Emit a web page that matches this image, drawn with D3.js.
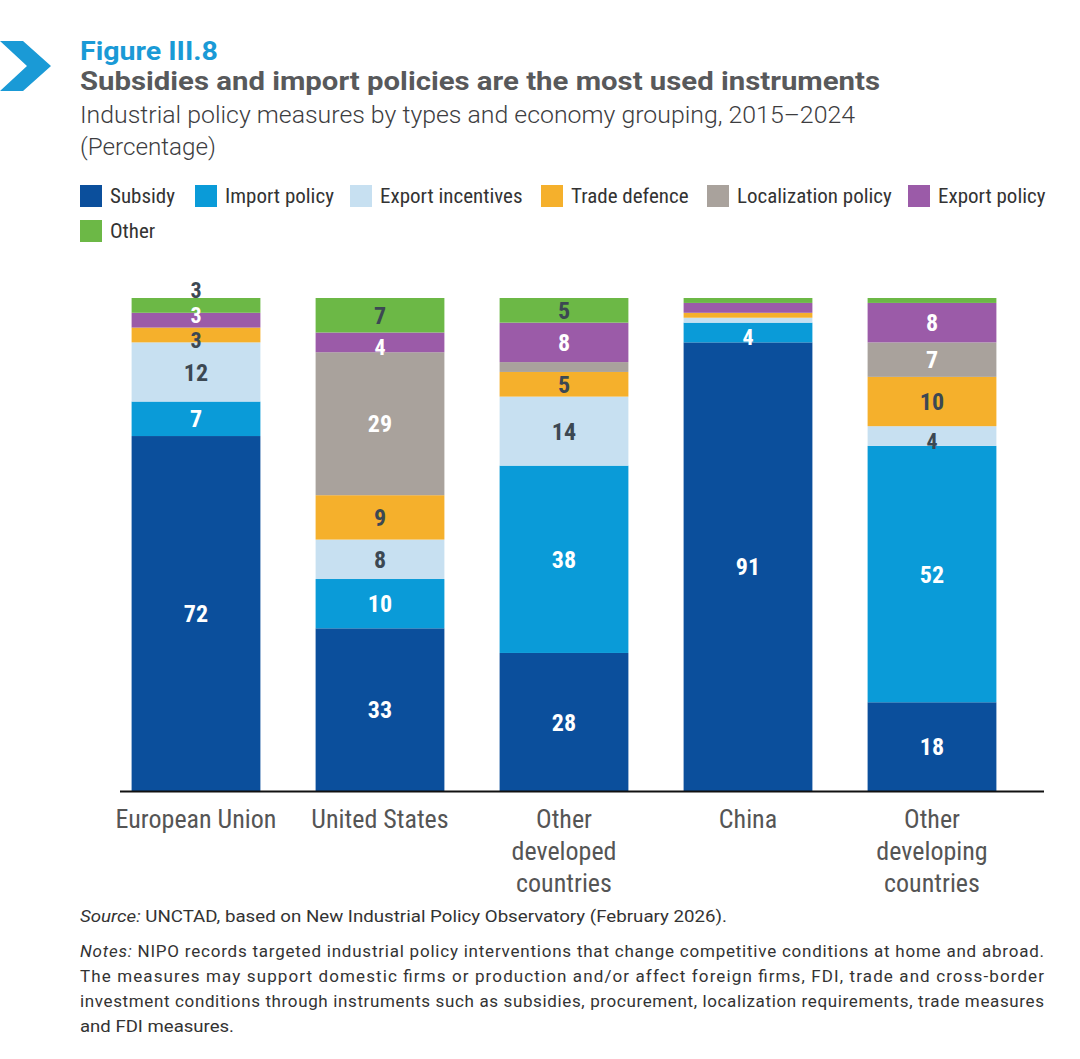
<!DOCTYPE html>
<html>
<head>
<meta charset="utf-8">
<script src="https://cdn.jsdelivr.net/npm/d3@7"></script>
<style>
  body { margin: 0; background: #fff; }
  svg { display: block; }
  .cond { font-family: "Liberation Sans Narrow", "Roboto Condensed", "Roboto", sans-serif; }
</style>
</head>
<body>
<div id="chart"></div>
<script>
// data (percent of measures)
const groups = ["European Union", "United States", "Other developed countries", "China", "Other developing countries"];
const groupLines = [["European Union"], ["United States"], ["Other", "developed", "countries"], ["China"], ["Other", "developing", "countries"]];
const types = ["Subsidy", "Import policy", "Export incentives", "Trade defence", "Localization policy", "Export policy", "Other"];
const colors = ["#0b4f9c", "#0a9bd8", "#c7e0f1", "#f5b02c", "#a9a29c", "#9b5ba8", "#6cb846"];
const labelColors = ["#fff", "#fff", "#3c4853", "#3c4853", "#fff", "#fff", "#3c4853"];

const subsidy      = [72, 33, 28, 91, 18];
const importPolicy = [7, 10, 38, 4, 52];
const exportIncent = [12, 8, 14, 1, 4];
const tradeDefence = [3, 9, 5, 1, 10];
const localization = [0, 29, 2, 0, 7];
const exportPolicy = [3, 4, 8, 2, 8];
const other        = [3, 7, 5, 1, 1];

const series = [subsidy, importPolicy, exportIncent, tradeDefence, localization, exportPolicy, other];

const W = 1080, H = 1059;
const svg = d3.select("#chart").append("svg").attr("width", W).attr("height", H);

// chevron
svg.append("path")
  .attr("d", "M0,41 L23,41 L51,66 L23,91 L0,91 L27,66 Z")
  .attr("fill", "#1a9ad6");

// titles
svg.append("text").attr("x", 80).attr("y", 60)
  .attr("font-family", "Roboto, sans-serif").attr("font-weight", 700).attr("font-size", 26)
  .attr("fill", "#1a9ad6").attr("textLength", 138).attr("lengthAdjust", "spacingAndGlyphs")
  .text("Figure III.8");
svg.append("text").attr("x", 80).attr("y", 90)
  .attr("font-family", "Roboto, sans-serif").attr("font-weight", 700).attr("font-size", 26)
  .attr("fill", "#58595b").attr("textLength", 800).attr("lengthAdjust", "spacingAndGlyphs")
  .text("Subsidies and import policies are the most used instruments");
svg.append("text").attr("x", 80).attr("y", 123)
  .attr("font-family", "Roboto, sans-serif").attr("font-weight", 300).attr("font-size", 23)
  .attr("fill", "#3d3d3f").attr("textLength", 775).attr("lengthAdjust", "spacingAndGlyphs")
  .text("Industrial policy measures by types and economy grouping, 2015\u20132024");
svg.append("text").attr("x", 80).attr("y", 155)
  .attr("font-family", "Roboto, sans-serif").attr("font-weight", 300).attr("font-size", 23)
  .attr("fill", "#3d3d3f").attr("textLength", 136).attr("lengthAdjust", "spacingAndGlyphs")
  .text("(Percentage)");

// legend
const legendX = [80, 195, 350, 541, 707, 908, 80];
const legendY = [185, 185, 185, 185, 185, 185, 220];
const leg = svg.append("g").selectAll("g").data(types).join("g")
  .attr("transform", (d, i) => `translate(${legendX[i]},${legendY[i]})`);
leg.append("rect").attr("width", 22).attr("height", 22).attr("fill", (d, i) => colors[i]);
leg.append("text").attr("class", "cond").attr("x", 30).attr("y", 18)
  .attr("font-size", 21).attr("fill", "#333").text(d => d);

// chart
const baseY = 791, topY = 298;
const x = d3.scaleBand().domain(groups).range([104, 1024]).paddingInner(0.3).paddingOuter(0.15);
const y = d3.scaleLinear().domain([0, 100]).range([baseY, topY]);

const rows = groups.map((g, i) => {
  const r = { group: g };
  types.forEach((t, j) => r[t] = series[j][i]);
  return r;
});
const stacked = d3.stack().keys(types)(rows);

const layers = svg.append("g").selectAll("g").data(stacked).join("g")
  .attr("fill", (d, i) => colors[i]);
layers.selectAll("rect").data(d => d).join("rect")
  .attr("x", d => x(d.data.group))
  .attr("width", x.bandwidth())
  .attr("y", d => y(d[1]))
  .attr("height", d => y(d[0]) - y(d[1]));

// value labels, pushed upward where small segments crowd each other
const labs = svg.append("g").attr("class", "cond").attr("font-weight", 700)
  .attr("text-anchor", "middle");
groups.forEach((g, gi) => {
  let lastY = Infinity;
  stacked.forEach((layer, i) => {
    const d = layer[gi];
    const v = d[1] - d[0];
    if (v < 3) return;
    const h = y(d[0]) - y(d[1]);
    let cy = (y(d[0]) + y(d[1])) / 2;
    if (v < 5) cy += 5;
    if (lastY - cy < 25) cy = lastY - 25;
    lastY = cy;
    labs.append("text")
      .attr("x", x(g) + x.bandwidth() / 2)
      .attr("y", cy)
      .attr("dy", "0.36em")
      .attr("font-size", h < 20 ? 22 : 24)
      .attr("fill", labelColors[i])
      .text(v);
  });
});

// baseline
svg.append("line").attr("x1", 120).attr("x2", 1044).attr("y1", baseY + 0.5).attr("y2", baseY + 0.5)
  .attr("stroke", "#111").attr("stroke-width", 2);

// category labels
const cat = svg.append("g").attr("class", "cond").attr("font-size", 26).attr("fill", "#555")
  .attr("text-anchor", "middle");
groups.forEach((g, i) => {
  const t = cat.append("text").attr("x", x(g) + x.bandwidth() / 2).attr("y", 828);
  groupLines[i].forEach((line, k) => {
    t.append("tspan").attr("x", x(g) + x.bandwidth() / 2).attr("dy", k ? 32 : 0).text(line);
  });
});

// source and notes
const noteFont = "Liberation Sans Narrow, Roboto, sans-serif";
const src = svg.append("text").attr("x", 80).attr("y", 922).attr("font-family", noteFont)
  .attr("font-size", 17).attr("fill", "#333").attr("textLength", 647).attr("lengthAdjust", "spacingAndGlyphs");
src.append("tspan").attr("font-style", "italic").text("Source:");
src.append("tspan").text(" UNCTAD, based on New Industrial Policy Observatory (February 2026).");

const noteLines = [
  "NIPO records targeted industrial policy interventions that change competitive conditions at home and abroad.",
  "The measures may support domestic firms or production and/or affect foreign firms, FDI, trade and cross-border",
  "investment conditions through instruments such as subsidies, procurement, localization requirements, trade measures",
  "and FDI measures."
];
const n0 = svg.append("text").attr("x", 80).attr("y", 957).attr("font-family", noteFont)
  .attr("font-size", 17).attr("fill", "#333").attr("textLength", 964).attr("lengthAdjust", "spacing");
n0.append("tspan").attr("font-style", "italic").text("Notes:");
n0.append("tspan").text(" " + noteLines[0]);
noteLines.slice(1).forEach((l, i) => {
  const t = svg.append("text").attr("x", 80).attr("y", 982 + i * 25).attr("font-family", noteFont)
    .attr("font-size", 17).attr("fill", "#333").text(l);
  if (i < 2) t.attr("textLength", 964).attr("lengthAdjust", "spacing");
  else t.attr("textLength", 154).attr("lengthAdjust", "spacingAndGlyphs");
});
</script>
</body>
</html>
